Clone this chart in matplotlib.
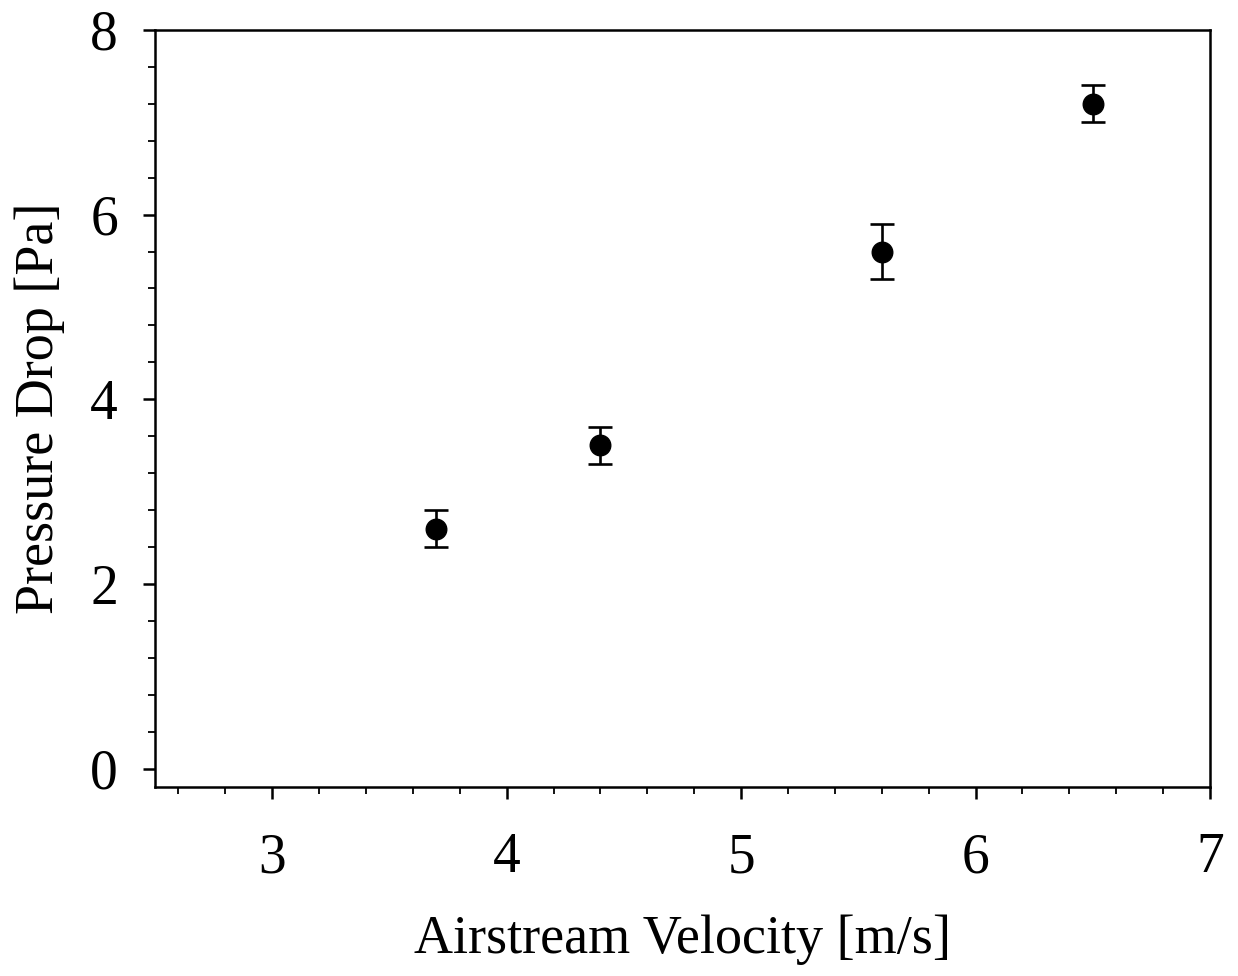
import matplotlib
matplotlib.use("Agg")
import matplotlib.pyplot as plt
from matplotlib.ticker import MultipleLocator

velocity = [3.7, 4.4, 5.6, 6.5]
pressure_drop = [2.6, 3.5, 5.6, 7.2]
error = [0.2, 0.2, 0.3, 0.2]
x_ticks = [3, 4, 5, 6, 7]
y_ticks = [0, 2, 4, 6, 8]

plt.rcParams['font.family'] = ['Liberation Serif', 'DejaVu Serif']

fig = plt.figure(figsize=(12.38, 9.76), dpi=100)
ax = fig.add_axes([155/1238, 1-787/976, (1210-155)/1238, (787-30)/976])

ax.errorbar(velocity, pressure_drop, yerr=error, fmt='o', color='black',
            markersize=14.8, capsize=8.6, elinewidth=1.9, capthick=1.9)

ax.set_xlim(2.5, 7)
ax.set_ylim(-0.2, 8)
ax.set_xticks(x_ticks)
ax.set_yticks(y_ticks)
ax.xaxis.set_minor_locator(MultipleLocator(0.2))
ax.yaxis.set_minor_locator(MultipleLocator(0.4))

for s in ax.spines.values():
    s.set_linewidth(1.8)

ax.tick_params(axis='both', which='major', direction='out', length=8.6, width=1.8,
               labelsize=40)
ax.tick_params(axis='both', which='minor', direction='out', length=5, width=1.3)
ax.tick_params(axis='x', which='major', pad=24)
ax.tick_params(axis='y', which='major', pad=18)

ax.set_xlabel('Airstream Velocity [m/s]', fontsize=39, labelpad=22)
ax.set_ylabel('Pressure Drop [Pa]', fontsize=39, labelpad=18)

fig.savefig('out.png', dpi=100)
